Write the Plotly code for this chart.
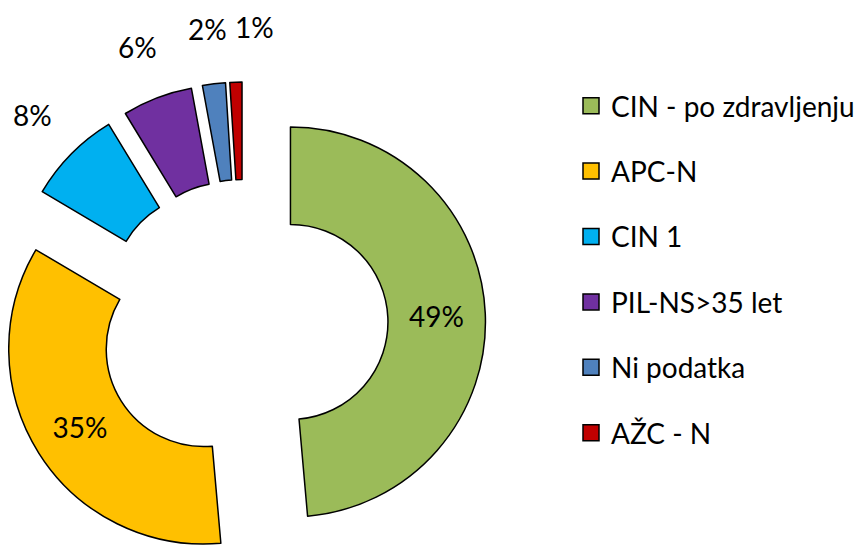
import math
import plotly.graph_objects as go

labels = ["CIN - po zdravljenju", "APC-N", "CIN 1", "PIL-NS>35 let", "Ni podatka", "AŽC - N"]
values = [48.6, 34.9, 7.8, 5.8, 1.9, 1.0]
colors = ["#9BBB59", "#FFC000", "#00B0F0", "#7030A0", "#4F81BD", "#C00000"]
label_inside = [True, True, False, False, False, False]

W, H = 864, 547
SHIFT = 8             # page body margin: the figure is drawn 8px right/down
CX, CY = 243.5, 324   # donut centre before explosion (screen px)
R = 195               # outer radius (px)
PULL = 47             # explosion distance (px)
LABEL_R = 297         # distance of outside labels from the centre
FONT = dict(family="Lato, 'Open Sans', sans-serif", size=28, color="black")


def px_x(x):
    return (x - SHIFT) / W


def px_y(y):
    return 1 - (y - SHIFT) / H


total = sum(values)
fig = go.Figure()

# one pie per slice, all others transparent, so every slice can be pulled
# by its own offset without the pie being shrunk to fit the pull
start = 0.0
annotations = []
prev_x = None
for k, v in enumerate(values):
    mid = math.radians((start + v / 2) / total * 360)
    start += v
    cx = CX + PULL * math.sin(mid)
    cy = CY - PULL * math.cos(mid)
    dom_x = [max(0, px_x(cx - R)), min(1, px_x(cx + R))]
    dom_y = [max(0, px_y(cy + R)), min(1, px_y(cy - R))]

    own = [i == k for i in range(len(values))]
    fig.add_trace(
        go.Pie(
            labels=labels,
            values=values,
            sort=False,
            direction="clockwise",
            rotation=0,
            hole=0.5,
            domain=dict(x=dom_x, y=dom_y),
            marker=dict(
                colors=[colors[i] if o else "rgba(0,0,0,0)" for i, o in enumerate(own)],
                line=dict(
                    color=["black" if o else "rgba(0,0,0,0)" for o in own],
                    width=[1.5 if o else 0 for o in own],
                ),
            ),
            texttemplate=["%{percent:.0%}" if (o and label_inside[i]) else "" for i, o in enumerate(own)],
            textposition="inside",
            insidetextorientation="horizontal",
            textfont=FONT,
            hoverinfo="label+percent",
            showlegend=False,
        )
    )

    # small slices get their label outside, pushed apart if they collide
    if not label_inside[k]:
        lx = CX + LABEL_R * math.sin(mid)
        ly = CY - LABEL_R * math.cos(mid)
        if prev_x is not None and lx - prev_x < 47:
            lx = prev_x + 47
        prev_x = lx
        annotations.append(
            dict(
                x=px_x(lx), y=px_y(ly), xref="paper", yref="paper",
                text=f"{round(v / total * 100)}%",
                showarrow=False, font=FONT,
                xanchor="center", yanchor="middle",
            )
        )

# legend entries (square swatches)
for lab, col in zip(labels, colors):
    fig.add_trace(
        go.Scatter(
            x=[None], y=[None],
            mode="markers",
            name=lab,
            legendgroup=lab,
            marker=dict(symbol="square", size=16, color=col, line=dict(color="black", width=1.5)),
            showlegend=True,
        )
    )

fig.update_layout(
    width=W,
    height=H,
    margin=dict(l=0, r=0, t=0, b=0),
    paper_bgcolor="white",
    plot_bgcolor="white",
    font=FONT,
    xaxis=dict(visible=False),
    yaxis=dict(visible=False),
    annotations=annotations,
    legend=dict(
        x=px_x(571),
        y=px_y(81),
        xanchor="left",
        yanchor="top",
        font=FONT,
        tracegroupgap=26,
        bgcolor="rgba(0,0,0,0)",
    ),
)

fig.write_html("out.html")
